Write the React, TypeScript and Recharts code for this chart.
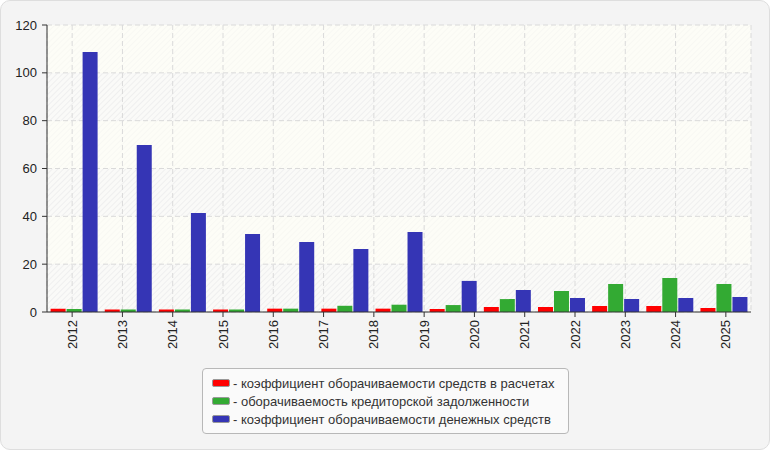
import { BarChart, Bar, XAxis, YAxis, CartesianGrid } from 'recharts';

// year labels on the axis (14) — the chart itself has 13 bar groups
const years = ['2012', '2013', '2014', '2015', '2016', '2017', '2018', '2019', '2020', '2021', '2022', '2023', '2024', '2025'];

const receivables = [1.4, 1.0, 1.0, 1.0, 1.4, 1.4, 1.4, 1.25, 2.1, 2.1, 2.5, 2.5, 1.7];
const payables = [1.25, 1.0, 1.0, 1.0, 1.4, 2.6, 3.05, 2.9, 5.4, 8.8, 11.7, 14.2, 11.7];
const cash = [108.7, 69.8, 41.4, 32.6, 29.3, 26.3, 33.4, 13.0, 9.2, 5.9, 5.4, 5.9, 6.3];

const yTicks = [0, 20, 40, 60, 80, 100, 120];

const SERIES = [
  { key: 'receivables', name: '- коэффициент оборачиваемости средств в расчетах', color: '#ff0000' },
  { key: 'payables', name: '- оборачиваемость кредиторской задолженности', color: '#33aa33' },
  { key: 'cash', name: '- коэффициент оборачиваемости денежных средств', color: '#3535b5' },
];

const data = cash.map((_, i) => ({
  period: i,
  receivables: receivables[i],
  payables: payables[i],
  cash: cash[i],
}));

const labelTicks = years.map((_, i) => i + 0.5);

const FONT = '"Liberation Sans", Arial, sans-serif';

function YearTick({ x, y, payload }: any) {
  const label = years[Math.floor(payload.value)];
  return (
    <text
      x={x}
      y={y}
      transform={`rotate(-90, ${x}, ${y})`}
      textAnchor="end"
      dy={4.5}
      fontSize={13}
      fontFamily={FONT}
      fill="#222"
    >
      {label}
    </text>
  );
}

function ChartLegend() {
  return (
    <div
      style={{
        position: 'absolute',
        left: 201,
        top: 367,
        width: 367,
        height: 66,
        border: '1px solid #b8b8b8',
        borderRadius: 4,
        background: '#fafafa',
        boxSizing: 'border-box',
        fontFamily: FONT,
        fontSize: 13,
        color: '#333',
        paddingTop: 5,
      }}
    >
      {SERIES.map((s) => (
        <div key={s.key} style={{ display: 'flex', alignItems: 'center', height: 18, paddingLeft: 9 }}>
          <span
            style={{
              display: 'inline-block',
              width: 16,
              height: 6,
              background: s.color,
              border: '1px solid #999',
              borderRadius: 2,
              marginRight: 3,
            }}
          />
          <span>{s.name}</span>
        </div>
      ))}
    </div>
  );
}

export default function App() {
  return (
    <div
      style={{
        position: 'absolute',
        left: 0,
        top: 0,
        width: 770,
        height: 450,
        background: '#f4f4f4',
        border: '1px solid #dedede',
        borderRadius: 10,
        boxSizing: 'border-box',
        overflow: 'hidden',
      }}
    >
      <svg width={0} height={0} style={{ position: 'absolute' }}>
        <defs>
          <pattern id="hatchLight" width="4" height="4" patternUnits="userSpaceOnUse" patternTransform="rotate(45)">
            <rect width="4" height="4" fill="#fdfdf7" />
            <line x1="0" y1="0" x2="0" y2="4" stroke="#f4f4ef" strokeWidth="1" />
          </pattern>
          <pattern id="hatchDark" width="4" height="4" patternUnits="userSpaceOnUse" patternTransform="rotate(45)">
            <rect width="4" height="4" fill="#fafaf8" />
            <line x1="0" y1="0" x2="0" y2="4" stroke="#e9e9e9" strokeWidth="1.2" />
          </pattern>
        </defs>
      </svg>
      <div style={{ position: 'absolute', left: -1, top: -1 }}>
        <BarChart
          width={770}
          height={450}
          data={data}
          margin={{ top: 25, right: 19, left: 0, bottom: 98 }}
          barCategoryGap={3.6}
          barGap={1}
        >
          <CartesianGrid
            xAxisId="labels"
            stroke="#dadada"
            strokeDasharray="5 3"
            horizontalFill={['url(#hatchLight)', 'url(#hatchDark)']}
          />
          <XAxis xAxisId="bars" dataKey="period" type="category" hide height={0} />
          <XAxis
            xAxisId="labels"
            dataKey="period"
            type="number"
            domain={[0, 14]}
            ticks={labelTicks}
            allowDataOverflow
            interval={0}
            height={40}
            tick={<YearTick />}
            tickSize={5}
            tickMargin={3}
            axisLine={{ stroke: '#333' }}
            tickLine={{ stroke: '#333' }}
          />
          <XAxis
            xAxisId="top"
            orientation="top"
            dataKey="period"
            type="number"
            domain={[0, 14]}
            height={0}
            tick={false}
            tickLine={false}
            axisLine={{ stroke: '#dcdcdc' }}
          />
          <YAxis
            domain={[0, 120]}
            ticks={yTicks}
            width={47}
            tickSize={5}
            tickMargin={5}
            tick={{ fontSize: 13, fontFamily: FONT, fill: '#222' }}
            axisLine={{ stroke: '#333' }}
            tickLine={{ stroke: '#333' }}
          />
          <YAxis
            yAxisId="right"
            orientation="right"
            domain={[0, 120]}
            width={0}
            tick={false}
            tickLine={false}
            axisLine={{ stroke: '#dcdcdc' }}
          />
          {SERIES.map((s) => (
            <Bar key={s.key} xAxisId="bars" dataKey={s.key} name={s.name} fill={s.color} isAnimationActive={false} />
          ))}
        </BarChart>
      </div>
      <ChartLegend />
    </div>
  );
}
